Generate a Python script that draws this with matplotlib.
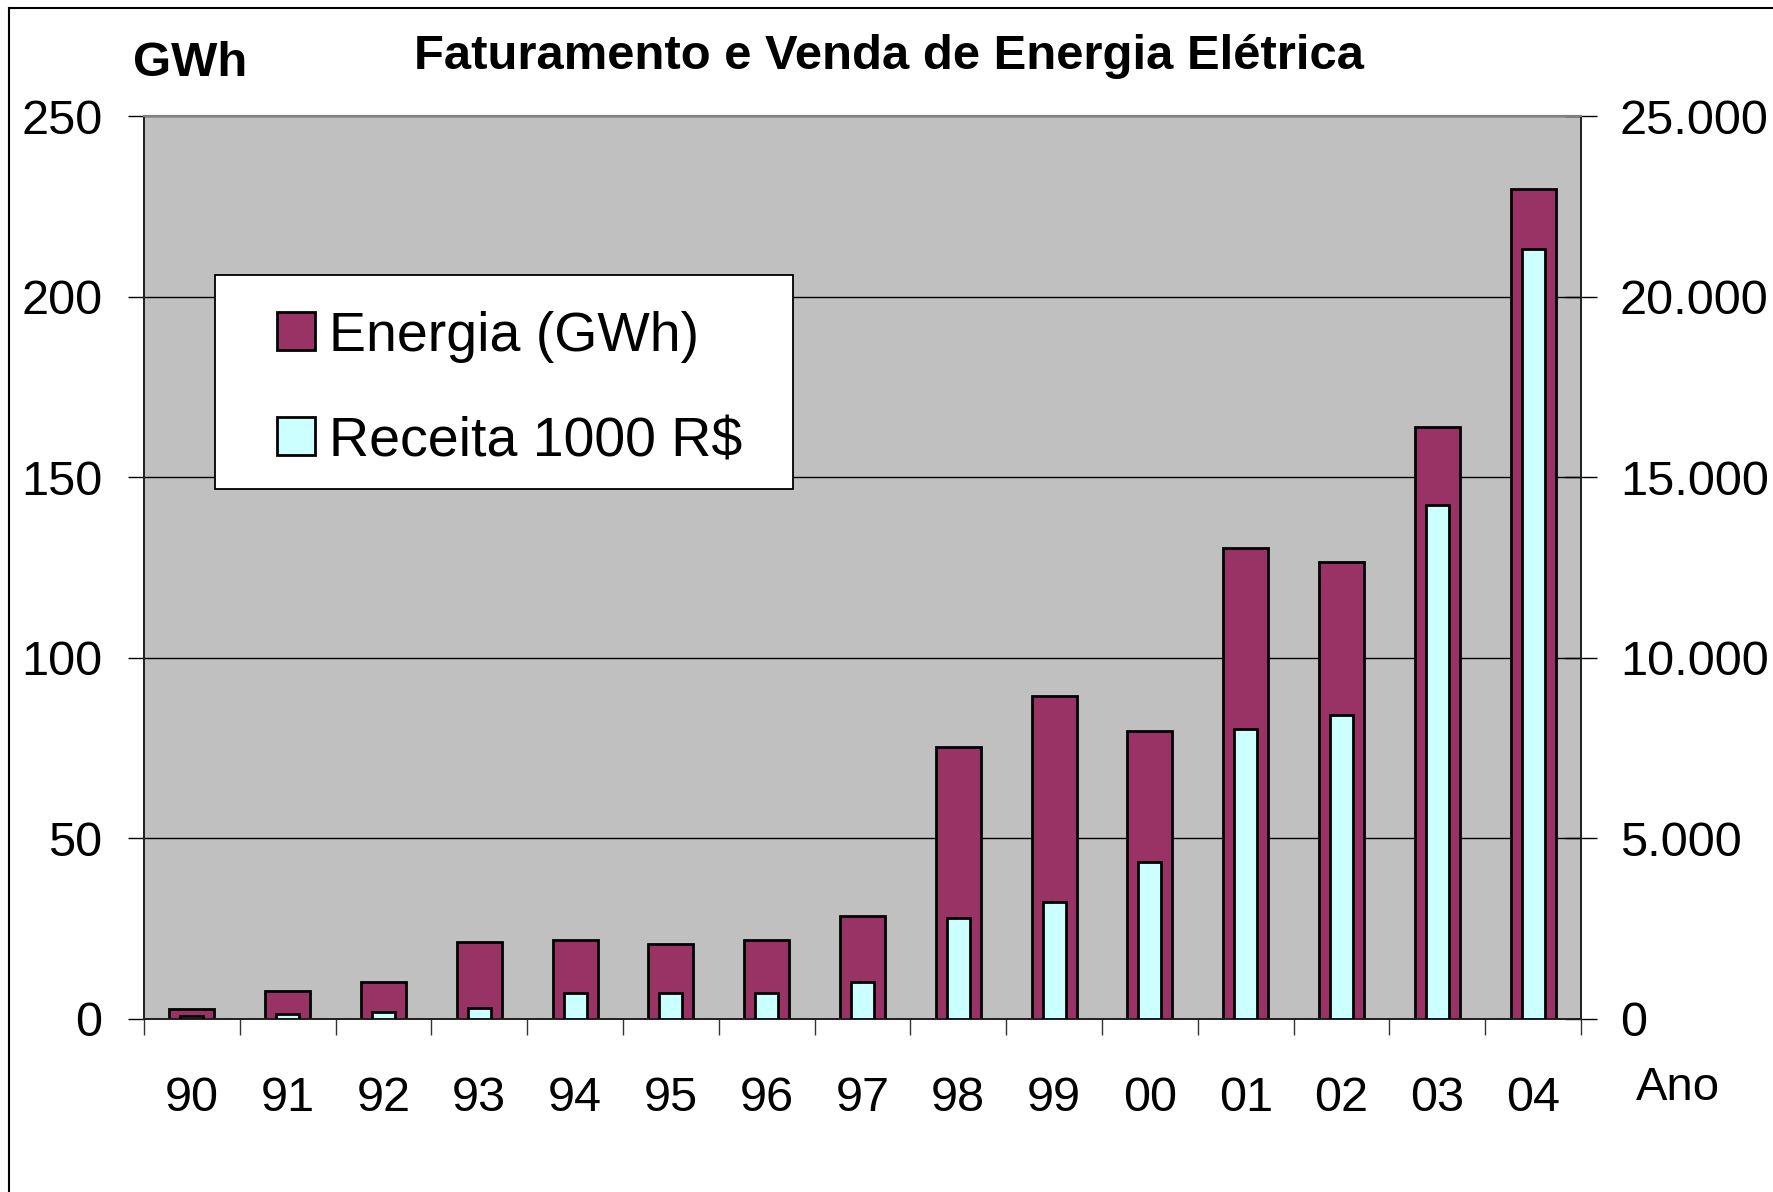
import numpy as np
import matplotlib
matplotlib.use("Agg")
import matplotlib.pyplot as plt
from matplotlib.lines import Line2D
from matplotlib.patches import Rectangle
from matplotlib.ticker import FuncFormatter, FixedLocator

plt.rcParams['font.family'] = ['Liberation Sans', 'DejaVu Sans']

anos = ["90", "91", "92", "93", "94", "95", "96", "97", "98", "99", "00", "01", "02", "03", "04"]
energia_gwh = [2.7, 7.8, 10.3, 21.3, 22.0, 20.8, 22.0, 28.5, 75.3, 89.5, 79.7, 130.3, 126.4, 163.8, 229.8]
receita_mil_rs = [70, 130, 195, 310, 710, 710, 710, 1030, 2790, 3240, 4340, 8040, 8430, 14230, 21310]
left_ticks = [0, 50, 100, 150, 200, 250]
right_ticks = [0, 5000, 10000, 15000, 20000, 25000]
serie_nomes = ['Energia (GWh)', 'Receita 1000 R$']
serie_cores = ['#993366', '#CCFFFF']

W, H = 1774, 1192
fig = plt.figure(figsize=(W / 100, H / 100), dpi=100)


def fx(px):
    return px / W


def fy(py):
    return 1 - py / H


L, R, T, B = 144, 1581, 116, 1019
ax = fig.add_axes([fx(L), fy(B), (R - L) / W, (B - T) / H])
ax.set_facecolor('#C0C0C0')
ax2 = ax.twinx()

x = np.arange(len(anos))
ax.bar(x, energia_gwh, width=0.47, color=serie_cores[0], edgecolor='black', linewidth=2, zorder=3)
ax2.bar(x, receita_mil_rs, width=0.24, color=serie_cores[1], edgecolor='black', linewidth=2, zorder=3)

ax.set_xlim(-0.5, len(anos) - 0.5)
ax.set_ylim(0, 250)
ax2.set_ylim(0, 25000)

ax.yaxis.set_major_locator(FixedLocator(left_ticks))
ax2.yaxis.set_major_locator(FixedLocator(right_ticks))
ax2.yaxis.set_major_formatter(FuncFormatter(lambda v, p: f"{int(v):,}".replace(',', '.')))

ax.grid(axis='y', color='black', linewidth=1.0, zorder=1)
ax.set_axisbelow(True)

ax.set_xticks(np.arange(-0.5, len(anos), 1.0))
ax.set_xticklabels([])
ax.set_xticks(x, minor=True)
ax.set_xticklabels(anos, minor=True)
ax.tick_params(axis='x', which='major', direction='out', length=11.5, width=1.0, color='#333333')
ax.tick_params(axis='x', which='minor', length=0, pad=41, labelsize=35)

ax.tick_params(axis='y', direction='out', length=11.5, width=1.0, pad=18.5, labelsize=35)
ax2.tick_params(axis='y', direction='inout', length=23, width=1.0, pad=16.5, labelsize=35)

for a in (ax, ax2):
    for s in a.spines.values():
        s.set_linewidth(1.3)
        s.set_color('#222222')
    a.spines['top'].set_color('#808080')
    a.spines['top'].set_linewidth(1.5)

fig.text(fx(889), fy(56.5), 'Faturamento e Venda de Energia Elétrica', fontsize=35.3,
         fontweight='bold', ha='center', va='center')
fig.text(fx(133), fy(63.5), 'GWh', fontsize=35.3, fontweight='bold', ha='left', va='center')
fig.text(fx(1636), fy(1088), 'Ano', fontsize=34, ha='left', va='center')

# legend box (drawn in figure pixels)
fig.add_artist(Rectangle((fx(214.6), fy(489)), (793 - 214.6) / W, (489 - 275) / H,
                         transform=fig.transFigure, facecolor='white', edgecolor='black',
                         linewidth=1.3, zorder=10))
for i, (nome, cor) in enumerate(zip(serie_nomes, serie_cores)):
    bottom = 350 + i * 105
    fig.add_artist(Rectangle((fx(277), fy(bottom)), 38 / W, 38 / H, transform=fig.transFigure,
                             facecolor=cor, edgecolor='black', linewidth=2, zorder=11))
    fig.text(fx(329), fy(bottom + 1), nome, fontsize=40, ha='left', va='baseline', zorder=12)

fig.add_artist(Line2D([fx(9), 1.0], [fy(8), fy(8)], color='black', linewidth=1.5,
                      transform=fig.transFigure))
fig.add_artist(Line2D([fx(9), fx(9)], [fy(8), 0.0], color='black', linewidth=1.5,
                      transform=fig.transFigure))

fig.savefig('out.png', dpi=100)
